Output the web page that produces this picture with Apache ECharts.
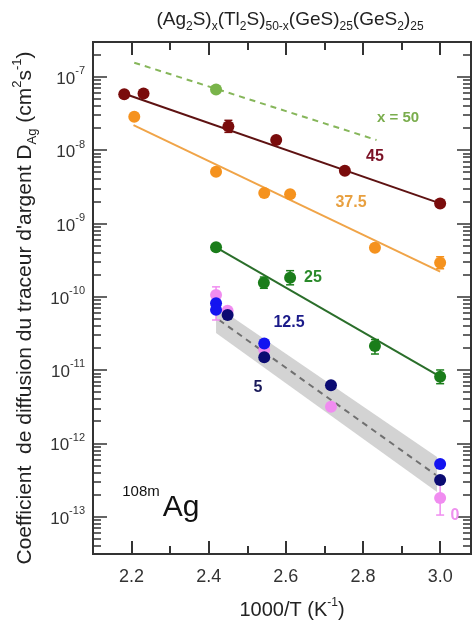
<!DOCTYPE html>
<html>
<head>
<meta charset="utf-8">
<script src="https://cdn.jsdelivr.net/npm/echarts@6/dist/echarts.min.js"></script>
<style>
html, body { margin: 0; padding: 0; background: #fff; }
#chart { width: 472px; height: 625px; }
</style>
</head>
<body>
<div id="chart"></div>
<script>
// x = 1000/T (K^-1), y = D_Ag (cm2 s-1)
var xTicks = [2.2, 2.4, 2.6, 2.8, 3.0];
var xMinor = [2.3, 2.5, 2.7, 2.9];
var yDecades = [-13, -12, -11, -10, -9, -8, -7];

var pts50 = [[2.419, 6.7e-8]];
var fit50 = [[2.207, 1.55e-7], [2.835, 1.37e-8]];

var pts45 = [[2.181, 5.75e-8], [2.231, 5.9e-8], [2.451, 2.1e-8], [2.575, 1.37e-8], [2.753, 5.2e-9], [3.0, 1.87e-9]];
var fit45 = [[2.189, 5.68e-8], [3.0, 1.87e-9]];
var err45 = [[2.451, 1.74e-8, 2.54e-8]];

var pts37 = [[2.207, 2.85e-8], [2.419, 5.06e-9], [2.544, 2.6e-9], [2.611, 2.5e-9], [2.831, 4.65e-10], [3.0, 2.9e-10]];
var fit37 = [[2.205, 2.19e-8], [3.0, 2.19e-10]];
var err37 = [[3.0, 2.4e-10, 3.5e-10]];

var pts25 = [[2.419, 4.7e-10], [2.543, 1.55e-10], [2.611, 1.81e-10], [2.831, 2.12e-11], [3.0, 8.1e-12]];
var fit25 = [[2.419, 4.7e-10], [3.0, 8.1e-12]];
var err25 = [[2.543, 1.3e-10, 1.85e-10], [2.611, 1.45e-10, 2.26e-10], [2.831, 1.65e-11, 2.6e-11], [3.0, 6.5e-12, 1.0e-11]];

var pts12 = [[2.419, 8.1e-11], [2.419, 6.6e-11], [2.544, 2.3e-11], [3.0, 5.2e-13]];
var pts5 = [[2.449, 5.6e-11], [2.544, 1.49e-11], [2.717, 6.2e-12], [3.0, 3.15e-13]];
var pts0 = [[2.419, 1.05e-10], [2.449, 6.4e-11], [2.544, 1.87e-11], [2.717, 3.15e-12], [3.0, 1.8e-13]];
var err0 = [[2.419, 4.8e-11, 1.36e-10], [3.0, 1.05e-13, 3.2e-13]];

var bandTop = [[2.419, 7.45e-11], [2.992, 6.5e-13]];
var bandBot = [[2.419, 3.19e-11], [2.992, 2.16e-13]];
var bandMid = [[2.427, 4.8e-11], [2.989, 3.7e-13]];

var FONT = '"Liberation Sans", Arial, sans-serif';
var AXC = '#333';
var YMIN = -13.51, YMAX = -6.527, XMIN = 2.1, XMAX = 3.08;

function lg(arr) {
  return arr.map(function (p) {
    var r = [p[0]];
    for (var i = 1; i < p.length; i++) r.push(Math.log10(p[i]));
    return r;
  });
}

var yMinor = [];
for (var n = -14; n <= -7; n++) {
  for (var k = 2; k <= 9; k++) {
    var v = n + Math.log10(k);
    if (v > YMIN && v < YMAX) yMinor.push(v);
  }
}

function xAx(pos, ticks, len, labels) {
  return {
    type: 'value', min: XMIN, max: XMAX, position: pos,
    axisLine: { show: true, lineStyle: { color: AXC, width: 2 } },
    axisTick: { inside: true, length: len, customValues: ticks, lineStyle: { color: AXC, width: 2 } },
    axisLabel: labels ? {
      customValues: ticks, margin: 14, fontSize: 18, color: '#333', fontFamily: FONT,
      formatter: function (v) { return v.toFixed(1); }
    } : { show: false },
    splitLine: { show: false }
  };
}
function yAx(pos, ticks, len, labels) {
  return {
    type: 'value', min: YMIN, max: YMAX, position: pos,
    axisLine: { show: true, lineStyle: { color: AXC, width: 2 } },
    axisTick: { inside: true, length: len, customValues: ticks, lineStyle: { color: AXC, width: 1.5 } },
    axisLabel: labels ? {
      customValues: ticks, margin: 8, color: '#333', fontFamily: FONT,
      formatter: function (v) { return '{b|10}{s|' + Math.round(v) + '}'; },
      rich: {
        b: { fontSize: 17, lineHeight: 22, fontFamily: FONT, color: '#333', verticalAlign: 'bottom' },
        s: { fontSize: 11, lineHeight: 12, fontFamily: FONT, color: '#333', verticalAlign: 'top' }
      }
    } : { show: false },
    splitLine: { show: false }
  };
}

function errRender(params, api) {
  var x = api.value(0);
  var lo = api.coord([x, api.value(1)]);
  var hi = api.coord([x, api.value(2)]);
  var c = api.visual('color');
  var w = 4;
  var st = { stroke: c, lineWidth: 1.5 };
  return {
    type: 'group', children: [
      { type: 'line', shape: { x1: lo[0], y1: lo[1], x2: hi[0], y2: hi[1] }, style: st },
      { type: 'line', shape: { x1: lo[0] - w, y1: lo[1], x2: lo[0] + w, y2: lo[1] }, style: st },
      { type: 'line', shape: { x1: hi[0] - w, y1: hi[1], x2: hi[0] + w, y2: hi[1] }, style: st }
    ]
  };
}

function bandRender(params, api) {
  var t = lg(bandTop), b = lg(bandBot);
  var pts = [api.coord(t[0]), api.coord(t[1]), api.coord(b[1]), api.coord(b[0])];
  return { type: 'polygon', shape: { points: pts }, style: { fill: '#d3d3d3' } };
}

function scatter(data, color, z) {
  return { type: 'scatter', data: lg(data), symbolSize: 12, z: z || 5,
    itemStyle: { color: color, opacity: 1 } };
}
function fitLine(data, color, dashed) {
  return { type: 'line', data: lg(data), symbol: 'none', z: 3,
    lineStyle: { color: color, width: 2, type: dashed ? [6, 5] : 'solid' } };
}
function errs(data, color) {
  return { type: 'custom', data: lg(data), renderItem: errRender, z: 4,
    encode: { x: 0, y: [1, 2] }, itemStyle: { color: color } };
}

function rt(text, x, y, size, color, bold, extra) {
  var s = { text: text, x: x, y: y, fill: color, align: 'center', verticalAlign: 'middle',
    font: (bold ? 'bold ' : '') + size + 'px ' + FONT };
  if (extra) for (var key in extra) s[key] = extra[key];
  return { type: 'text', z: 10, style: s };
}

var chart = echarts.init(document.getElementById('chart'));
chart.setOption({
  animation: false,
  backgroundColor: '#fff',
  grid: { left: 93, right: 1, top: 42, bottom: 71, containLabel: false },
  xAxis: [
    xAx('bottom', xTicks, 13, true),
    xAx('bottom', xMinor, 8, false),
    xAx('top', xTicks, 13, false),
    xAx('top', xMinor, 8, false)
  ],
  yAxis: [
    yAx('left', yDecades, 14, true),
    yAx('left', yMinor, 8, false),
    yAx('right', yDecades, 14, false),
    yAx('right', yMinor, 8, false)
  ],
  series: [
    { type: 'custom', data: [[2.419, -10.5]], renderItem: bandRender, z: 1, silent: true },
    fitLine(bandMid, '#707070', true),
    fitLine(fit50, '#86b65a', true),
    fitLine(fit45, '#5e1212', false),
    fitLine(fit37, '#f0a448', false),
    fitLine(fit25, '#2a6e2a', false),
    errs(err45, '#7a0c0c'),
    errs(err37, '#f5921e'),
    errs(err25, '#1a7d1a'),
    errs(err0, '#f08cf0'),
    scatter(pts50, '#79b44a'),
    scatter(pts45, '#7a0c0c'),
    scatter(pts37, '#f5921e'),
    scatter(pts25, '#1a7d1a'),
    scatter(pts0, '#f08cf0', 5),
    scatter(pts12, '#1414f0', 6),
    scatter(pts5, '#0b0b72', 7)
  ],
  graphic: [
    rt('{n|(Ag}{sub|2}{n|S)}{sub|x}{n|(Tl}{sub|2}{n|S)}{sub|50-x}{n|(GeS)}{sub|25}{n|(GeS}{sub|2}{n|)}{sub|25}',
      290, 20, 19, '#222', false, {
        rich: {
          n: { fontSize: 19, lineHeight: 26, fontFamily: FONT, fill: '#222', verticalAlign: 'middle' },
          sub: { fontSize: 12, lineHeight: 12, fontFamily: FONT, fill: '#222', verticalAlign: 'bottom' }
        }
      }),
    {
      type: 'text', z: 10, x: 25, y: 308, rotation: Math.PI / 2,
      style: {
        text: "{n|Coefficient  de diffusion du traceur d'argent D}{sub|Ag}{n| (cm}{sup|2}{n|s}{sup|-1}{n|)}",
        align: 'center', verticalAlign: 'middle', font: '21px ' + FONT, fill: '#222',
        rich: {
          n: { fontSize: 21, lineHeight: 28, fontFamily: FONT, fill: '#222', verticalAlign: 'middle' },
          sub: { fontSize: 13, lineHeight: 13, fontFamily: FONT, fill: '#222', verticalAlign: 'bottom' },
          sup: { fontSize: 13, lineHeight: 13, fontFamily: FONT, fill: '#222', verticalAlign: 'top' }
        }
      }
    },
    rt('{n|1000/T (K}{sup|-1}{n|)}', 292, 610, 20, '#222', false, {
      rich: {
        n: { fontSize: 20, lineHeight: 26, fontFamily: FONT, fill: '#222', verticalAlign: 'middle' },
        sup: { fontSize: 12, lineHeight: 12, fontFamily: FONT, fill: '#222', verticalAlign: 'top' }
      }
    }),
    rt('x = 50', 398, 118, 15, '#7aad4d', true),
    rt('45', 375, 157, 16, '#7b1226', true),
    rt('37.5', 351, 203, 16, '#e8a040', true),
    rt('25', 313, 278, 16, '#2a8a2a', true),
    rt('12.5', 289, 323, 16, '#1b1b8a', true),
    rt('5', 258, 388, 16, '#1a1a5a', true),
    rt('0', 455, 516, 16, '#ee90ee', true),
    rt('108m', 141, 492, 15, '#111', false),
    rt('Ag', 181, 508, 30, '#111', false)
  ]
});
</script>
</body>
</html>
